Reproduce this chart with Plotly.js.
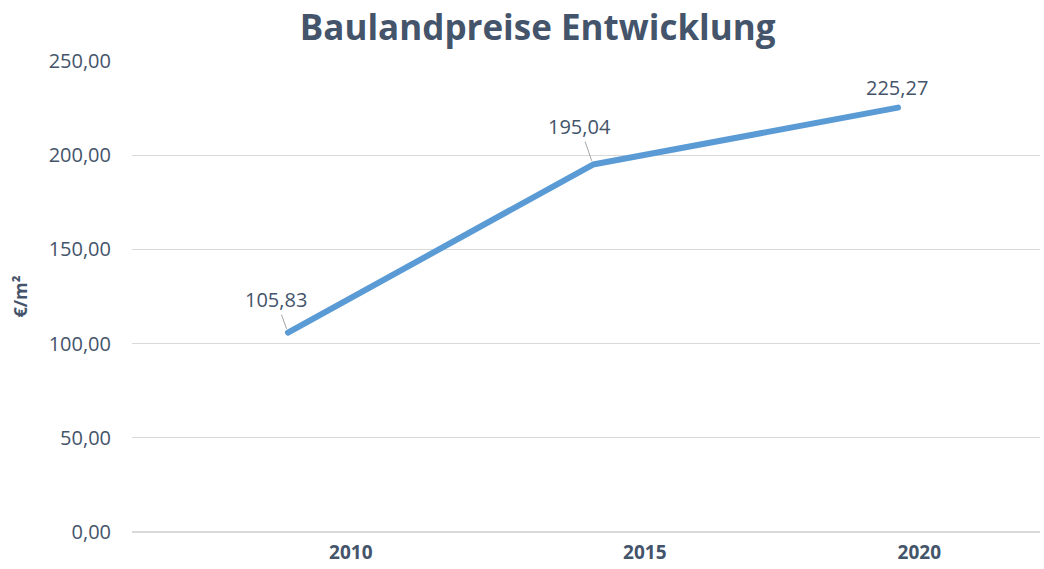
<!DOCTYPE html>
<html>
<head>
<meta charset="utf-8">
<script src="https://cdn.plot.ly/plotly-3.0.1.min.js"></script>
<style>html,body{margin:0;padding:0;background:#fff;}#chart{width:1044px;height:569px;}
#chart .scatterlayer path.js-line{stroke-linecap:round;stroke-linejoin:round;}</style>
</head>
<body>
<div id="chart"></div>
<script>
// Data
var years = [2010, 2015, 2020];
var prices = [105.83, 195.04, 225.27];
var tickLabels = ["2010", "2015", "2020"];
var yTicks = [0, 50, 100, 150, 200, 250];

// Label offsets (px) for the data labels
var labelDx = [-12, -13, -1];
var labelDy = [-33, -38, -20];
var leaderColors = ['#A6A6A6', '#A6A6A6', 'rgba(0,0,0,0)'];
// Tick label positions along the x axis (as in the original, offset from the points)
var xTickPos = [2011.03, 2015.85, 2020.35];

var fontFam = '"Open Sans", "Noto Sans", sans-serif';
var textCol = '#44546A';

function fmt(v) { return v.toFixed(2).replace('.', ','); }

var annotations = years.map(function (yr, i) {
  return {
    x: yr, y: prices[i], xref: 'x', yref: 'y',
    text: fmt(prices[i]),
    showarrow: true, arrowhead: 0, arrowwidth: 1,
    arrowcolor: leaderColors[i],
    ax: labelDx[i], ay: labelDy[i],
    standoff: 4,
    font: { family: fontFam, size: 20, color: textCol }
  };
});

var trace = {
  type: 'scatter', mode: 'lines',
  x: years, y: prices,
  line: { color: '#5B9BD5', width: 6 },
  hoverinfo: 'skip'
};

var layout = {
  width: 1044, height: 569,
  margin: { l: 132, r: 4, t: 61, b: 37 },
  paper_bgcolor: '#ffffff', plot_bgcolor: '#ffffff',
  separators: ',.',
  showlegend: false,
  title: {
    text: '<b>Baulandpreise Entwicklung</b>',
    font: { family: fontFam, size: 35, color: textCol },
    x: 0.515, xanchor: 'center', xref: 'container',
    y: 0.952, yanchor: 'middle', yref: 'container'
  },
  xaxis: {
    type: 'linear',
    range: [2007.443, 2022.328],
    tickmode: 'array', tickvals: xTickPos, ticktext: tickLabels.map(function(t){return '<b>'+t+'</b>';}),
    showgrid: false, zeroline: false, showline: false, ticks: '',
    tickfont: { family: fontFam, size: 19, color: textCol },
    ticklabelstandoff: 7
  },
  yaxis: {
    range: [0, 250],
    tickmode: 'array', tickvals: yTicks,
    tickformat: '.2f',
    showgrid: true, gridcolor: '#D9D9D9', gridwidth: 1,
    zeroline: true, zerolinecolor: '#D9D9D9', zerolinewidth: 1.5,
    showline: false, ticks: '',
    tickfont: { family: fontFam, size: 20, color: textCol },
    ticklabelstandoff: 20,
    title: { text: '<b>€/m²</b>', font: { family: fontFam, size: 18, color: textCol }, standoff: 16 }
  },
  annotations: annotations
};

Plotly.newPlot('chart', [trace], layout, { staticPlot: true, displayModeBar: false });
</script>
</body>
</html>
